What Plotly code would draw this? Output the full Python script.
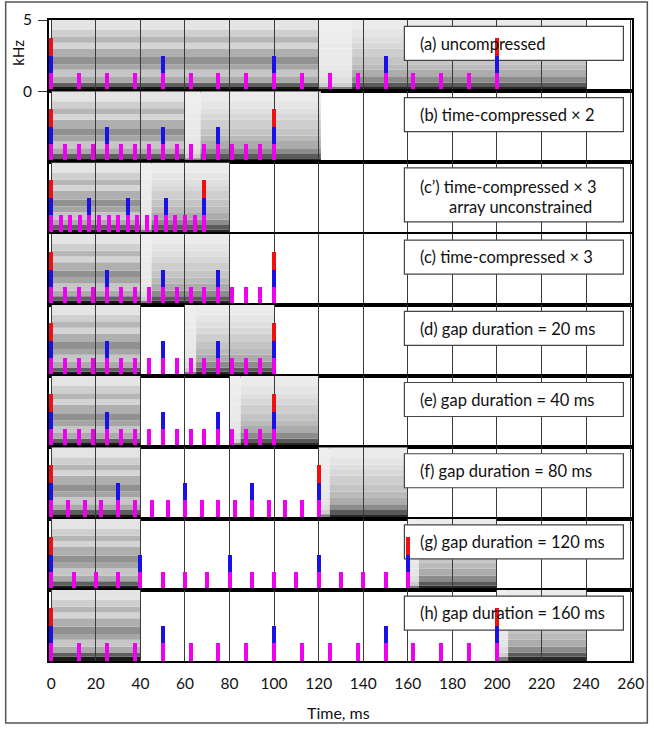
import plotly.graph_objects as go
from plotly.subplots import make_subplots

# ---------------- data ----------------
panel_labels = [
    ["(a) uncompressed"],
    ["(b) time-compressed × 2"],
    ["(c’) time-compressed × 3", "array unconstrained"],
    ["(c) time-compressed × 3"],
    ["(d) gap duration = 20 ms"],
    ["(e) gap duration = 40 ms"],
    ["(f) gap duration = 80 ms"],
    ["(g) gap duration = 120 ms"],
    ["(h) gap duration = 160 ms"],
]

# pulse (magenta) times, ms
pulses_a = [0, 12.5, 25, 37.5, 50, 62.5, 75, 87.5, 100, 112.5, 125, 137.5, 150, 162.5, 175, 187.5, 200]
pulses_b = [0, 6.25, 12.5, 18.75, 25, 31.25, 37.5, 43.75, 50, 56.25, 62.5, 68.75, 75, 81.25, 87.5, 93.75, 100]
pulses_c1 = [0, 4.3, 8.6, 12.8, 17.1, 21.4, 25.7, 30.0, 34.3, 38.6, 42.8, 47.1, 51.4, 55.7, 60.0, 64.3, 68.5]
pulses_c = [0, 6.25, 12.5, 18.75, 25, 31.25, 37.5, 43.75, 50, 56.25, 62.5, 68.75, 75, 81.25, 87.5, 93.75, 100]
pulses_d = [0, 6.25, 12.5, 18.75, 25, 31.25, 37.5, 43.75, 50, 56.25, 62.5, 68.75, 75, 81.25, 87.5, 93.75, 100]
pulses_e = [0, 6.25, 12.5, 18.75, 25, 31.25, 37.5, 43.75, 50, 56.25, 62.5, 68.75, 75, 81.25, 87.5, 93.75, 100]
pulses_f = [0, 7.5, 15, 22.5, 30, 37.5, 45, 52.5, 60, 67.5, 75, 82.5, 90, 97.5, 105, 112.5, 120]
pulses_g = [0, 10, 20, 30, 40, 50, 60, 70, 80, 90, 100, 110, 120, 130, 140, 150, 160]
pulses_h = [0, 12.5, 25, 37.5, 50, 62.5, 75, 87.5, 100, 112.5, 125, 137.5, 150, 162.5, 175, 187.5, 200]

# blue marker times, ms
blue_a = [0, 50, 100, 150, 200]
blue_b = [0, 25, 50, 75, 100]
blue_c1 = [0, 17.1, 34.3, 51.4, 68.5]
blue_c = [0, 25, 50, 75, 100]
blue_d = [0, 25, 50, 75, 100]
blue_e = [0, 25, 50, 75, 100]
blue_f = [0, 30, 60, 90, 120]
blue_g = [0, 40, 80, 120, 160]
blue_h = [0, 50, 100, 150, 200]

# red marker times, ms
red_a = [0, 200]
red_b = [0, 100]
red_c1 = [0, 68.5]
red_c = [0, 100]
red_d = [0, 100]
red_e = [0, 100]
red_f = [0, 120]
red_g = [0, 160]
red_h = [0, 200]

# spectrogram segments: (start ms, end ms, spectral type)
spec_a = [(0, 120, "voiced"), (120, 135, "closure"), (135, 240, "noise")]
spec_b = [(0, 60, "voiced"), (60, 67, "closure"), (67, 121, "noise")]
spec_c1 = [(0, 40, "voiced"), (40, 45, "closure"), (45, 80, "noise")]
spec_c = [(0, 40, "voiced"), (40, 45, "closure"), (45, 80, "noise")]
spec_d = [(0, 40, "voiced"), (60, 65, "closure"), (65, 100, "noise")]
spec_e = [(0, 40, "voiced"), (80, 85, "closure"), (85, 120, "noise")]
spec_f = [(0, 40, "voiced"), (120, 125, "closure"), (125, 160, "noise")]
spec_g = [(0, 40, "voiced"), (160, 165, "closure"), (165, 200, "noise")]
spec_h = [(0, 40, "voiced"), (200, 205, "closure"), (205, 240, "noise")]

# spectral band edges (kHz) and grey levels (0 = black, 255 = white)
band_edges_khz = [0, 0.3, 0.6, 1.0, 1.5, 1.9, 2.4, 3.0, 3.4, 3.8, 4.3, 5.0]
grey_voiced = [25, 95, 170, 198, 165, 145, 175, 212, 182, 207, 228]
grey_noise = [40, 90, 140, 172, 186, 196, 206, 216, 223, 229, 235]
grey_closure = [125, 205, 222, 229, 231, 233, 234, 235, 236, 237, 238]

# bar heights, kHz (magenta, blue, red stacked)
h_magenta = 1.25
h_blue = 1.2
h_red = 1.3

x_ticks = [0, 20, 40, 60, 80, 100, 120, 140, 160, 180, 200, 220, 240, 260]
y_ticks = [0, 5]

pulses = [pulses_a, pulses_b, pulses_c1, pulses_c, pulses_d, pulses_e, pulses_f, pulses_g, pulses_h]
blues = [blue_a, blue_b, blue_c1, blue_c, blue_d, blue_e, blue_f, blue_g, blue_h]
reds = [red_a, red_b, red_c1, red_c, red_d, red_e, red_f, red_g, red_h]
specs = [spec_a, spec_b, spec_c1, spec_c, spec_d, spec_e, spec_f, spec_g, spec_h]
greys = {"voiced": grey_voiced, "noise": grey_noise, "closure": grey_closure}

# ---------------- figure ----------------
N = 9
X_RANGE = [-1.0, 260.6]
Y_RANGE = [0, 5]
fig = make_subplots(rows=N, cols=1, shared_xaxes=True, vertical_spacing=0)

BAR_W = 1.8
FONT = "Lato"
LABEL_SIZE = 16.5

# label box position as fractions of each panel
BOX_X = (0.611, 0.987)
BOX_Y_ONE = (0.43, 0.905)
BOX_Y_TWO = (0.16, 0.92)


def fx(f):
    return X_RANGE[0] + f * (X_RANGE[1] - X_RANGE[0])


def fy(f):
    return Y_RANGE[0] + f * (Y_RANGE[1] - Y_RANGE[0])


for i in range(N):
    r = i + 1
    xr = "x" if r == 1 else f"x{r}"
    yr = "y" if r == 1 else f"y{r}"
    two_line = len(panel_labels[i]) == 2
    by = BOX_Y_TWO if two_line else BOX_Y_ONE

    # white label box (drawn as a bar so that it sits under the pulse bars)
    fig.add_trace(go.Bar(x=[(fx(BOX_X[0]) + fx(BOX_X[1])) / 2], y=[fy(by[1]) - fy(by[0])],
                         base=fy(by[0]), width=fx(BOX_X[1]) - fx(BOX_X[0]),
                         marker=dict(color="white", line=dict(color="#444", width=1.2)),
                         showlegend=False, hoverinfo="skip"), row=r, col=1)

    fig.add_trace(go.Bar(x=pulses[i], y=[h_magenta] * len(pulses[i]), base=0,
                         width=BAR_W, marker=dict(color="#f000f0", line=dict(width=0)),
                         showlegend=False, hoverinfo="skip"), row=r, col=1)
    fig.add_trace(go.Bar(x=blues[i], y=[h_blue] * len(blues[i]), base=h_magenta,
                         width=BAR_W, marker=dict(color="#1a10e8", line=dict(width=0)),
                         showlegend=False, hoverinfo="skip"), row=r, col=1)
    fig.add_trace(go.Bar(x=reds[i], y=[h_red] * len(reds[i]), base=h_magenta + h_blue,
                         width=BAR_W, marker=dict(color="#f01010", line=dict(width=0)),
                         showlegend=False, hoverinfo="skip"), row=r, col=1)

    # spectrogram bands
    for (t0, t1, kind) in specs[i]:
        g = greys[kind]
        for b in range(len(g)):
            c = g[b]
            fig.add_shape(type="rect", xref=xr, yref=yr, x0=t0, x1=t1,
                          y0=band_edges_khz[b], y1=band_edges_khz[b + 1],
                          fillcolor=f"rgb({c},{c},{c})", line=dict(width=0),
                          layer="below")

    if two_line:
        fig.add_annotation(xref=f"{xr} domain", yref=f"{yr} domain", x=0.633, y=0.651,
                           text=panel_labels[i][0], showarrow=False, xanchor="left",
                           yanchor="middle", font=dict(family=FONT, size=LABEL_SIZE, color="#111"))
        fig.add_annotation(xref=f"{xr} domain", yref=f"{yr} domain", x=0.683, y=0.372,
                           text=panel_labels[i][1], showarrow=False, xanchor="left",
                           yanchor="middle", font=dict(family=FONT, size=LABEL_SIZE, color="#111"))
    else:
        fig.add_annotation(xref=f"{xr} domain", yref=f"{yr} domain", x=0.633, y=0.667,
                           text=panel_labels[i][0], showarrow=False, xanchor="left",
                           yanchor="middle", font=dict(family=FONT, size=LABEL_SIZE, color="#111"))

fig.update_layout(barmode="overlay", bargap=0)

for r in range(1, N + 1):
    fig.update_xaxes(row=r, col=1, range=X_RANGE, tickvals=x_ticks,
                     showgrid=True, gridcolor="#3a3a3a", gridwidth=1,
                     showline=True, mirror=True, linecolor="black", linewidth=2,
                     zeroline=False, ticks="", showticklabels=(r == N),
                     tickfont=dict(family=FONT, size=15.5, color="#111"),
                     ticklabelstandoff=7, automargin=False)
    fig.update_yaxes(row=r, col=1, range=Y_RANGE, showgrid=False, zeroline=False,
                     showline=True, mirror=True, linecolor="black", linewidth=2,
                     tickvals=y_ticks if r == 1 else [],
                     ticks="outside" if r == 1 else "", ticklen=9, tickcolor="#333",
                     showticklabels=(r == 1),
                     tickfont=dict(family=FONT, size=15.5, color="#111"),
                     ticklabelstandoff=3, automargin=False)

fig.add_annotation(xref="paper", yref="paper", x=-0.0537, y=0.9485, text="kHz",
                   textangle=-90, showarrow=False, xanchor="center", yanchor="middle",
                   font=dict(family=FONT, size=15, color="#111"))
fig.add_annotation(xref="paper", yref="paper", x=0.497, y=-0.0796, text="Time, ms",
                   showarrow=False, xanchor="center", yanchor="middle",
                   font=dict(family=FONT, size=16, color="#111"))

# outer frame
fig.add_shape(type="rect", xref="paper", yref="paper", x0=-0.0743, x1=1.0263,
              y0=-0.0967, y1=1.028, line=dict(color="#555", width=1.5),
              fillcolor="rgba(0,0,0,0)", layer="above")

fig.update_layout(width=654, height=732, margin=dict(l=49, r=22, t=20, b=71),
                  plot_bgcolor="white", paper_bgcolor="white",
                  font=dict(family=FONT))

fig.write_html("out.html", config={"displayModeBar": False},
               post_script="document.body.style.margin='0px';document.body.style.padding='0px';")
